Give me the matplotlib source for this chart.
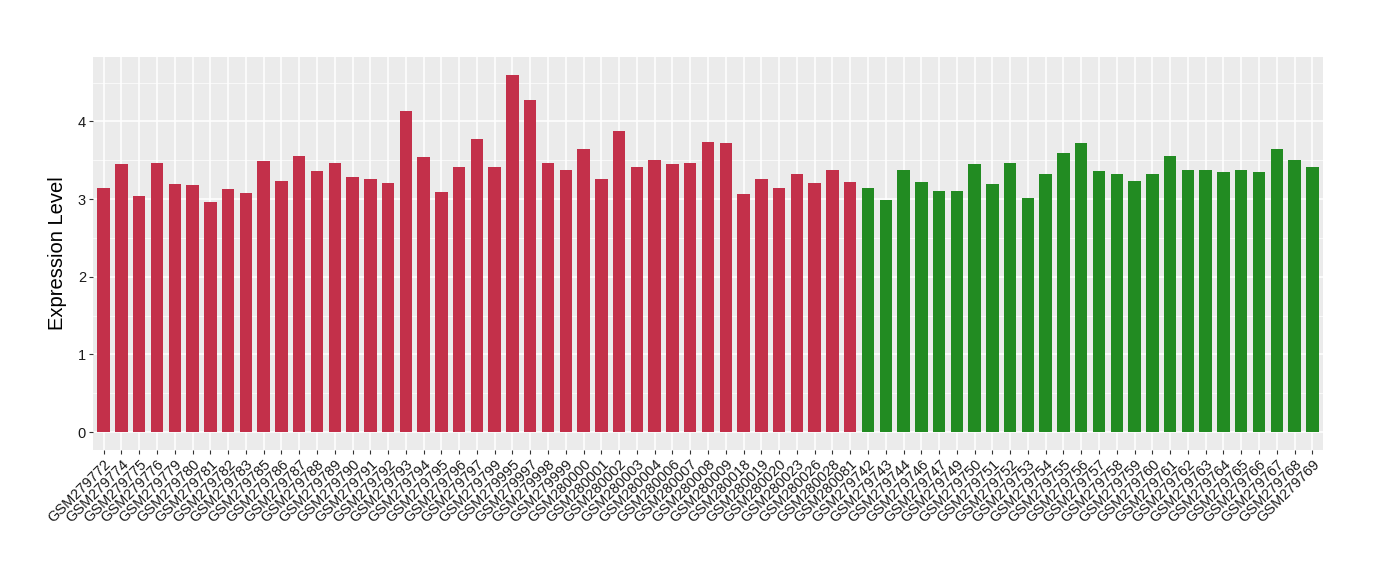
import numpy as np
import matplotlib
matplotlib.use("Agg")
import matplotlib.pyplot as plt
from matplotlib.ticker import MultipleLocator

plt.rcParams['font.family'] = ['Liberation Sans', 'DejaVu Sans']

# 样本名称
red_samples = ['GSM279772', 'GSM279774', 'GSM279775', 'GSM279776', 'GSM279779',
               'GSM279780', 'GSM279781', 'GSM279782', 'GSM279783', 'GSM279785',
               'GSM279786', 'GSM279787', 'GSM279788', 'GSM279789', 'GSM279790',
               'GSM279791', 'GSM279792', 'GSM279793', 'GSM279794', 'GSM279795',
               'GSM279796', 'GSM279797', 'GSM279799', 'GSM279995', 'GSM279997',
               'GSM279998', 'GSM279999', 'GSM280000', 'GSM280001', 'GSM280002',
               'GSM280003', 'GSM280004', 'GSM280006', 'GSM280007', 'GSM280008',
               'GSM280009', 'GSM280018', 'GSM280019', 'GSM280020', 'GSM280023',
               'GSM280026', 'GSM280028', 'GSM280081']
green_samples = ['GSM279742', 'GSM279743', 'GSM279744', 'GSM279746', 'GSM279747',
                 'GSM279749', 'GSM279750', 'GSM279751', 'GSM279752', 'GSM279753',
                 'GSM279754', 'GSM279755', 'GSM279756', 'GSM279757', 'GSM279758',
                 'GSM279759', 'GSM279760', 'GSM279761', 'GSM279762', 'GSM279763',
                 'GSM279764', 'GSM279765', 'GSM279766', 'GSM279767', 'GSM279768',
                 'GSM279769']

# 表达量
red_values = [3.14, 3.45, 3.04, 3.46, 3.19, 3.18, 2.96, 3.13, 3.08, 3.49,
              3.23, 3.56, 3.36, 3.46, 3.29, 3.26, 3.21, 4.13, 3.54, 3.09,
              3.41, 3.78, 3.41, 4.60, 4.28, 3.46, 3.38, 3.64, 3.26, 3.88,
              3.42, 3.51, 3.45, 3.46, 3.73, 3.72, 3.06, 3.26, 3.14, 3.32,
              3.21, 3.37, 3.22]
green_values = [3.14, 2.99, 3.37, 3.22, 3.10, 3.10, 3.45, 3.19, 3.46, 3.01,
                3.33, 3.59, 3.72, 3.36, 3.32, 3.23, 3.32, 3.55, 3.37, 3.37,
                3.35, 3.37, 3.35, 3.65, 3.51, 3.41]

red_color = '#C3304A'
green_color = '#228B22'

samples = red_samples + green_samples
values = red_values + green_values
colors = [red_color] * len(red_samples) + [green_color] * len(green_samples)
x = np.arange(len(samples))

fig = plt.figure(figsize=(13.8, 5.8), dpi=100)
ax = fig.add_axes([93 / 1380, 1 - 450 / 580, 1230 / 1380, 393 / 580])
ax.set_facecolor('#EBEBEB')

ax.bar(x, values, width=0.7, color=colors, zorder=3)

ax.set_xlim(-0.6, len(samples) - 0.4)
ax.set_ylim(-0.23, 4.83)
ax.yaxis.set_major_locator(MultipleLocator(1))
ax.yaxis.set_minor_locator(MultipleLocator(0.5))
ax.set_xticks(x)
ax.set_xticklabels(samples, rotation=45, ha='right', va='top',
                   rotation_mode='anchor', fontsize=10.5, color='#1A1A1A')
for lab in ax.get_yticklabels():
    lab.set_fontsize(10.5)
    lab.set_color('#1A1A1A')

ax.grid(which='major', color='white', linewidth=1.1, zorder=0)
ax.grid(which='minor', axis='y', color='white', linewidth=0.5, zorder=0)
ax.set_axisbelow(True)
ax.tick_params(axis='both', which='major', length=3, width=0.8, color='#333333', pad=2)
ax.tick_params(axis='y', which='minor', length=0)
for s in ax.spines.values():
    s.set_visible(False)

ax.set_ylabel('Expression Level', fontsize=14.5, labelpad=8)

fig.savefig('out.png', dpi=100)
